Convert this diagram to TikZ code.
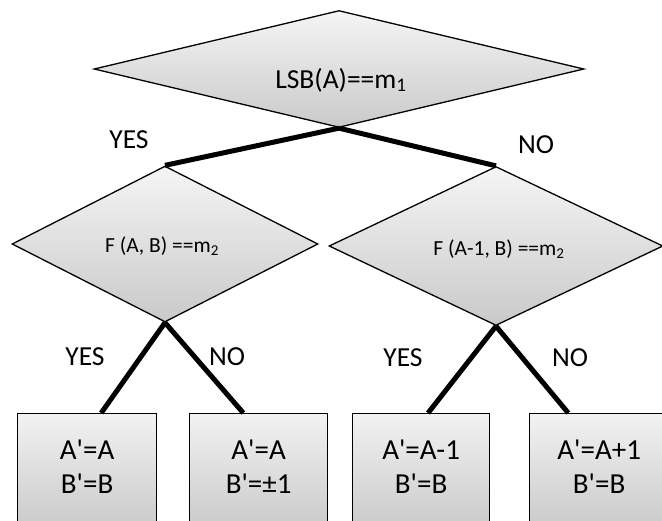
\documentclass[tikz,border=0pt]{standalone}
\usepackage{fontspec}
\setmainfont{Carlito}[Ligatures=TeXOff]
\usetikzlibrary{shapes.geometric,calc}
\begin{document}
\begin{tikzpicture}[x=1pt,y=-1pt,
 dia/.style={diamond,draw=black,line width=1.3pt,top color=gray!8,bottom color=gray!42,inner sep=0pt},
 res/.style={rectangle,draw=black,line width=1.3pt,top color=gray!10,bottom color=gray!42,inner sep=0pt,anchor=north west,minimum height=116pt},
 restxt/.style={align=center,inner sep=0pt,font=\fontsize{29}{34}\selectfont},
 lbl/.style={font=\fontsize{27.5}{32}\selectfont,inner sep=0pt},
 small/.style={font=\fontsize{21.5}{24}\selectfont,inner sep=0pt},
 conn/.style={line width=5pt}]
\useasboundingbox (0,0) rectangle (662,520);
\clip (0,0) rectangle (662,520);
% decision diamonds
\node[dia,minimum width=490pt,minimum height=117pt] (d0) at (339,69) {};
\node[dia,minimum width=306pt,minimum height=156pt] (d1) at (165,244) {};
\node[dia,minimum width=334pt,minimum height=159pt] (d2) at (496,246) {};
\node[lbl] (t0) at (341,80) {LSB(A)==m\textsubscript{1}};
\node[small] (t1) at (162,246) {F (A, B) ==m\textsubscript{2}};
\node[small] (t2) at (499,249) {F (A-1, B) ==m\textsubscript{2}};
% result boxes
\node[res,minimum width=139pt] (b1) at (17,413) {};
\node[res,minimum width=138pt] (b2) at (189,413) {};
\node[res,minimum width=137pt] (b3) at (352,413) {};
\node[res,minimum width=139pt] (b4) at (529,413) {};
\node[restxt] (b1t) at ($(b1.north)+(0,54)$) {A'=A\\B'=B};
\node[restxt] (b2t) at ($(b2.north)+(0,54)$) {A'=A\\B'=±1};
\node[restxt] (b3t) at ($(b3.north)+(0,54)$) {A'=A-1\\B'=B};
\node[restxt] (b4t) at ($(b4.north)+(0,54)$) {A'=A+1\\B'=B};
% connectors
\draw[conn] (d0.south) -- (d1.north);
\draw[conn] (d0.south) -- (d2.north);
\draw[conn] (d1.south) -- ($(b1.north west)!0.6!(b1.north east)$);
\draw[conn] (d1.south) -- ($(b2.north west)!0.39!(b2.north east)$);
\draw[conn] (d2.south) -- ($(b3.north west)!0.55!(b3.north east)$);
\draw[conn] (d2.south) -- ($(b4.north west)!0.28!(b4.north east)$);
% branch labels
\node[lbl] (y0) at (129,140) {YES};
\node[lbl] (n0) at (536,145) {NO};
\node[lbl] (y1) at (85,357) {YES};
\node[lbl] (n1) at (227,357) {NO};
\node[lbl] (y2) at (403,358) {YES};
\node[lbl] (n2) at (570,358) {NO};
\end{tikzpicture}
\end{document}
